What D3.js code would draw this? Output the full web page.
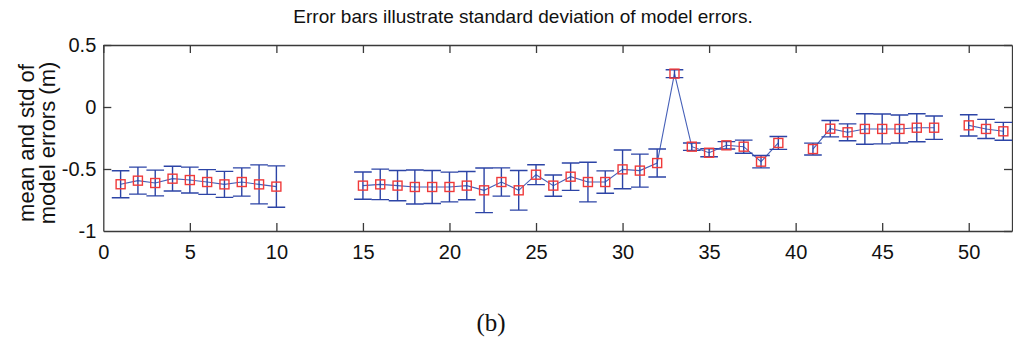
<!DOCTYPE html>
<html>
<head>
<meta charset="utf-8">
<script src="https://cdn.jsdelivr.net/npm/d3@7"></script>
<style>
  body { margin: 0; background: #fff; }
  svg { display: block; }
</style>
</head>
<body>
<div id="chart"></div>
<script>
// run index along the x axis (null mean = no data for that run)
const runs = [1,2,3,4,5,6,7,8,9,10,11,12,13,14,15,16,17,18,19,20,21,22,23,24,25,26,
  27,28,29,30,31,32,33,34,35,36,37,38,39,40,41,42,43,44,45,46,47,48,49,50,51,52];
const meanErr = [-0.623,-0.594,-0.613,-0.578,-0.589,-0.605,-0.624,-0.605,-0.624,-0.642,
  null,null,null,null,
  -0.634,-0.624,-0.634,-0.645,-0.645,-0.645,-0.634,-0.672,-0.605,-0.672,-0.546,-0.634,
  -0.562,-0.605,-0.605,-0.503,-0.513,-0.452,0.269,-0.32,-0.369,-0.309,-0.32,-0.441,-0.29,
  null,
  -0.339,-0.175,-0.204,-0.177,-0.177,-0.177,-0.167,-0.167,
  null,
  -0.148,-0.177,-0.196];
const stdErr = [0.109,0.109,0.104,0.1,0.104,0.1,0.105,0.114,0.157,0.167,
  null,null,null,null,
  0.11,0.123,0.122,0.137,0.133,0.12,0.114,0.18,0.114,0.16,0.08,0.086,
  0.11,0.16,0.09,0.156,0.133,0.113,0.032,0.03,0.032,0.03,0.053,0.05,0.052,
  null,
  0.048,0.066,0.068,0.123,0.12,0.113,0.113,0.094,
  null,
  0.086,0.077,0.072];
const xTicks = [0,5,10,15,20,25,30,35,40,45,50];
const yTicks = [-1,-0.5,0,0.5];

const data = runs.map((r, i) => ({ x: r, m: meanErr[i], s: stdErr[i] }));

const W = 1013, H = 347;
const svg = d3.select("#chart").append("svg")
  .attr("width", W).attr("height", H)
  .style("font-family", "'Liberation Sans', Arial, sans-serif");

svg.append("rect").attr("width", W).attr("height", H).attr("fill", "#fff");

const x = d3.scaleLinear().domain([0, 52.5]).range([103.3, 1012]);
const y = d3.scaleLinear().domain([-1, 0.5]).range([231, 45]);

const axisColor = "#3a3a3a";
const tickLen = 8;
const fmt = d => String(d); // plain hyphen minus, like the original

// axes (MATLAB style: ticks inside, box)
const gx = svg.append("g").attr("transform", `translate(0,${y(-1)})`)
  .call(d3.axisBottom(x).tickValues(xTicks).tickSizeInner(-tickLen).tickSizeOuter(0).tickPadding(14).tickFormat(fmt));
const gxt = svg.append("g").attr("transform", `translate(0,${y(0.5)})`)
  .call(d3.axisTop(x).tickValues(xTicks).tickSizeInner(-tickLen).tickSizeOuter(0).tickFormat(""));
const gy = svg.append("g").attr("transform", `translate(${x(0)},0)`)
  .call(d3.axisLeft(y).tickValues(yTicks).tickSizeInner(-tickLen).tickSizeOuter(0).tickPadding(7).tickFormat(fmt));
const gyr = svg.append("g").attr("transform", `translate(${x(52.5)},0)`)
  .call(d3.axisRight(y).tickValues(yTicks).tickSizeInner(-tickLen).tickSizeOuter(0).tickFormat(""));

[gx, gxt, gy, gyr].forEach(g => {
  g.select(".domain").attr("stroke", axisColor).attr("stroke-width", 1.3);
  g.selectAll(".tick line").attr("stroke", axisColor).attr("stroke-width", 1.3);
  g.selectAll(".tick text").attr("fill", "#111").style("font-size", "20px")
    .style("font-family", "'Liberation Sans', Arial, sans-serif");
});
gx.selectAll(".tick line").filter(d => d === 0).remove();
gy.selectAll(".tick line").filter(d => d === -1).remove();

const blue = "#2c44a6";
const valid = data.filter(d => d.m !== null);
const cap = x(0.51) - x(0);

// connecting line
const line = d3.line()
  .defined(d => d.m !== null)
  .x(d => x(d.x)).y(d => y(d.m));
svg.append("path").datum(data)
  .attr("d", line)
  .attr("fill", "none")
  .attr("stroke", "#4660b8")
  .attr("stroke-width", 1.1);

// error bars
const eb = svg.append("g").attr("stroke", blue).attr("stroke-width", 1.4).attr("fill", "none");
eb.selectAll("path.eb").data(valid).join("path")
  .attr("class", "eb")
  .attr("d", d => {
    const cx = x(d.x), t = y(d.m + d.s), b = y(d.m - d.s);
    return `M${cx},${t}V${b}M${cx - cap},${t}H${cx + cap}M${cx - cap},${b}H${cx + cap}`;
  });

// markers
svg.append("g").selectAll("rect").data(valid).join("rect")
  .attr("x", d => x(d.x) - 4.5)
  .attr("y", d => y(d.m) - 4.5)
  .attr("width", 9).attr("height", 9)
  .attr("fill", "none")
  .attr("stroke", "#f03a3a")
  .attr("stroke-width", 1.4);

// title
svg.append("text")
  .attr("x", 523).attr("y", 23)
  .attr("text-anchor", "middle")
  .style("font-size", "19px")
  .attr("fill", "#111")
  .text("Error bars illustrate standard deviation of model errors.");

// y label
const yl = svg.append("text")
  .attr("transform", "translate(0,143) rotate(-90)")
  .attr("text-anchor", "middle")
  .style("font-size", "22px")
  .attr("fill", "#111");
yl.append("tspan").attr("x", 0).attr("y", 34).text("mean and std of");
yl.append("tspan").attr("x", 0).attr("y", 55).text("model errors (m)");

// panel label
svg.append("text")
  .attr("x", 491).attr("y", 331)
  .attr("text-anchor", "middle")
  .style("font-family", "'Liberation Serif', 'Times New Roman', serif")
  .style("font-size", "25px")
  .attr("fill", "#111")
  .text("(b)");
</script>
</body>
</html>
